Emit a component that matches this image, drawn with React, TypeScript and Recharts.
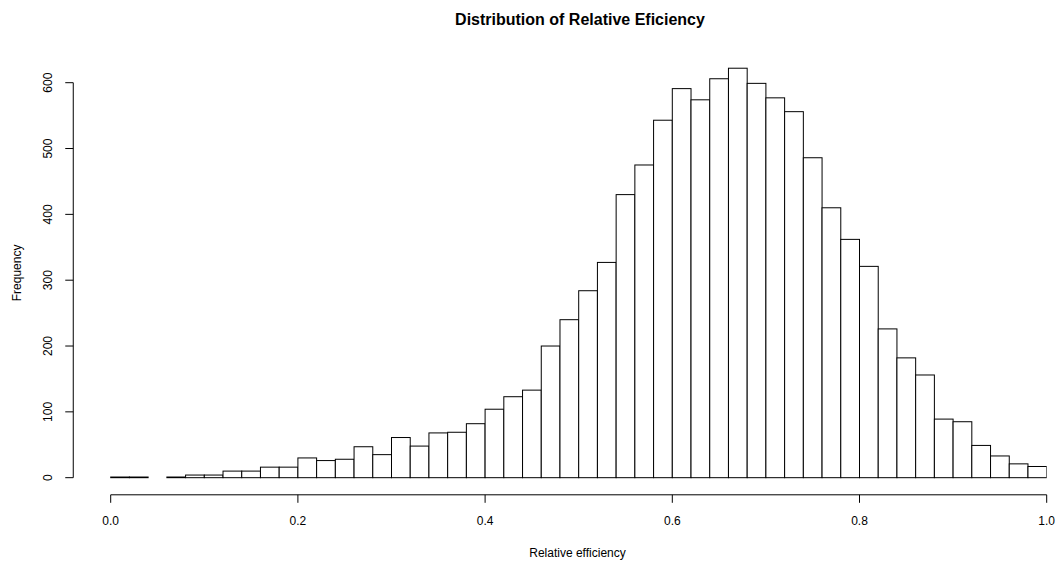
import { BarChart, Bar, XAxis, YAxis, ReferenceLine } from 'recharts';

// histogram bins: start of each 0.02-wide bin
const binStart = [
  0.0, 0.02, 0.04, 0.06, 0.08, 0.1, 0.12, 0.14, 0.16, 0.18,
  0.2, 0.22, 0.24, 0.26, 0.28, 0.3, 0.32, 0.34, 0.36, 0.38,
  0.4, 0.42, 0.44, 0.46, 0.48, 0.5, 0.52, 0.54, 0.56, 0.58,
  0.6, 0.62, 0.64, 0.66, 0.68, 0.7, 0.72, 0.74, 0.76, 0.78,
  0.8, 0.82, 0.84, 0.86, 0.88, 0.9, 0.92, 0.94, 0.96, 0.98,
];
const binWidth = 0.02;

const frequency = [
  1, 1, 0, 1, 4, 4, 10, 10, 16, 16,
  30, 26, 28, 47, 35, 61, 48, 68, 69, 82,
  104, 123, 133, 200, 240, 284, 327, 430, 475, 543,
  591, 574, 606, 622, 599, 577, 556, 486, 410, 362,
  321, 226, 182, 156, 89, 85, 49, 33, 21, 17,
];

const xTicks = [0, 0.2, 0.4, 0.6, 0.8, 1.0];
const yTicks = [0, 100, 200, 300, 400, 500, 600];

const data = binStart.map((s, i) => ({ mid: s + binWidth / 2, count: frequency[i] }));

const W = 1053;
const H = 554;
const margin = { top: 43.1, right: 14.3, bottom: 37.2, left: 0 };
const yAxisW = 65.26;
const xAxisH = 30;
const xDomain: [number, number] = [-0.04, 1.0];
const yDomain: [number, number] = [-26, 648];

const plotW = W - margin.left - margin.right - yAxisW;
const binPx = (plotW * binWidth) / (xDomain[1] - xDomain[0]);

const font = '"Liberation Sans", Arial, sans-serif';

const HistBar = (props: any) => {
  const { x, y, height } = props;
  if (x == null || y == null) return null;
  return <rect x={x} y={y} width={binPx} height={height} fill="#fff" stroke="#000" strokeWidth={1} />;
};

const XTick = ({ x, y, payload }: any) => (
  <text x={x} y={y} textAnchor="middle" dominantBaseline="central" fontSize={12} fill="#000">
    {Number(payload.value).toFixed(1)}
  </text>
);

const YTick = ({ x, y, payload }: any) => (
  <text
    x={x}
    y={y}
    transform={`rotate(-90, ${x}, ${y})`}
    textAnchor="middle"
    dominantBaseline="central"
    fontSize={12}
    fill="#000"
  >
    {payload.value}
  </text>
);

export default function App() {
  return (
    <div style={{ width: W, height: H }}>
      <div style={{ position: 'absolute', left: 8, top: 8, width: W, height: H, fontFamily: font }}>
        <div
          style={{
            position: 'absolute',
            left: 372,
            top: 3.5,
            width: 400,
            textAlign: 'center',
            fontSize: 16,
            lineHeight: '16px',
            fontWeight: 'bold',
            color: '#000',
          }}
        >
          Distribution of Relative Eficiency
        </div>
        <BarChart width={W} height={H} data={data} margin={margin} barCategoryGap={0}>
          <XAxis
            type="number"
            dataKey="mid"
            domain={xDomain}
            allowDataOverflow
            ticks={xTicks}
            interval={0}
            axisLine={false}
            tickLine={{ stroke: '#000' }}
            tickSize={8}
            tickMargin={17.7}
            height={xAxisH}
            tick={<XTick />}
            label={{
              content: () => (
                <text x={569.5} y={549} textAnchor="middle" fontSize={12} fill="#000">
                  Relative efficiency
                </text>
              ),
            }}
          />
          <YAxis
            type="number"
            domain={yDomain}
            allowDataOverflow
            ticks={yTicks}
            interval={0}
            axisLine={false}
            tickLine={{ stroke: '#000' }}
            tickSize={8}
            tickMargin={16.8}
            width={yAxisW}
            tick={<YTick />}
            label={{
              content: ({ viewBox }: any) => {
                const cy = viewBox.y + viewBox.height / 2;
                return (
                  <text
                    x={8.7}
                    y={cy}
                    transform={`rotate(-90, 8.7, ${cy})`}
                    textAnchor="middle"
                    dominantBaseline="central"
                    fontSize={12}
                    fill="#000"
                  >
                    Frequency
                  </text>
                );
              },
            }}
          />
          <Bar dataKey="count" shape={<HistBar />} isAnimationActive={false} />
          <ReferenceLine
            segment={[{ x: 0, y: yDomain[0] }, { x: 1, y: yDomain[0] }]}
            stroke="#000"
            ifOverflow="visible"
          />
          <ReferenceLine
            segment={[{ x: xDomain[0], y: 0 }, { x: xDomain[0], y: 600 }]}
            stroke="#000"
            ifOverflow="visible"
          />
        </BarChart>
      </div>
    </div>
  );
}
